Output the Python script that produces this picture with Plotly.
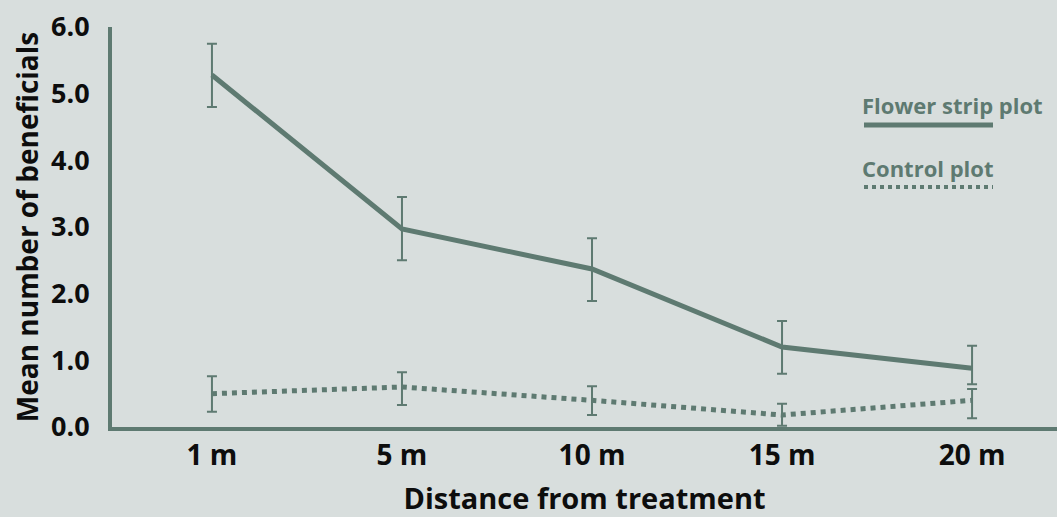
import plotly.graph_objects as go

categories = ["1 m", "5 m", "10 m", "15 m", "20 m"]
flower = [5.28, 2.97, 2.37, 1.20, 0.88]
flower_hi = [0.47, 0.48, 0.46, 0.39, 0.34]
flower_lo = [0.48, 0.47, 0.48, 0.40, 0.24]
control = [0.50, 0.60, 0.40, 0.18, 0.40]
control_hi = [0.26, 0.22, 0.21, 0.17, 0.17]
control_lo = [0.27, 0.27, 0.22, 0.16, 0.27]
y_ticks = [0, 1, 2, 3, 4, 5, 6]

GREEN = "#5e7a71"
BG = "#d8dedd"
FONT = "Open Sans"
INK = "#0d0d0d"

xs = list(range(len(categories)))

fig = go.Figure()
fig.add_trace(go.Scatter(
    x=xs, y=flower, mode="lines", name="Flower strip plot",
    line=dict(color=GREEN, width=5),
    error_y=dict(type="data", symmetric=False, array=flower_hi, arrayminus=flower_lo,
                 color=GREEN, thickness=2, width=5),
))
fig.add_trace(go.Scatter(
    x=xs, y=control, mode="lines", name="Control plot",
    line=dict(color=GREEN, width=5, dash="dot"),
    error_y=dict(type="data", symmetric=False, array=control_hi, arrayminus=control_lo,
                 color=GREEN, thickness=2, width=5),
))

W, H = 1057, 517
ml, mr, mt, mb = 112, 0, 27, 90
pw, ph = W - ml - mr, H - mt - mb

def px_to_paper(x, y):
    return (x - ml) / pw, 1 - (y - mt) / ph

anns = []
for txt, yy in [("Flower strip plot", 105), ("Control plot", 168)]:
    px, py = px_to_paper(860, yy)
    anns.append(dict(x=px, y=py, xref="paper", yref="paper", text=txt, showarrow=False,
                     xanchor="left", yanchor="middle",
                     font=dict(family=FONT, size=22, color=GREEN, weight="bold")))
fig.layout.annotations = anns

x0, y1 = px_to_paper(864, 125)
x1, _ = px_to_paper(993, 125)
fig.add_shape(type="line", xref="paper", yref="paper", x0=x0, x1=x1, y0=y1, y1=y1,
              line=dict(color=GREEN, width=5))
x0, y2 = px_to_paper(864, 187)
fig.add_shape(type="line", xref="paper", yref="paper", x0=x0, x1=x1, y0=y2, y1=y2,
              line=dict(color=GREEN, width=4, dash="dot"))

fig.update_layout(
    width=W, height=H,
    margin=dict(l=ml, r=mr, t=mt, b=mb),
    paper_bgcolor=BG, plot_bgcolor=BG,
    showlegend=False,
    font=dict(family=FONT, color=INK),
    xaxis=dict(
        range=[-0.526, 4.447], tickmode="array", tickvals=xs, ticktext=categories,
        showgrid=False, zeroline=False, showline=True, linecolor=GREEN, linewidth=4,
        ticks="", ticklabelstandoff=0,
        tickfont=dict(family=FONT, size=28, color=INK, weight="bold"),
        title=dict(text="Distance from treatment", standoff=24,
                   font=dict(family=FONT, size=29, color=INK, weight="bold")),
    ),
    yaxis=dict(
        range=[0, 6], tickmode="array", tickvals=y_ticks,
        ticktext=[f"{v:.1f}" for v in y_ticks],
        showgrid=False, zeroline=False, showline=True, linecolor=GREEN, linewidth=4,
        ticks="", ticklabelstandoff=13,
        tickfont=dict(family=FONT, size=27, color=INK, weight="bold"),
        title=dict(text="Mean number of beneficials", standoff=5,
                   font=dict(family=FONT, size=28, color=INK, weight="bold")),
    ),
)

fig.write_html("out.html", config={"displayModeBar": False},
               post_script="document.body.style.margin='0';document.body.style.overflow='hidden';")
